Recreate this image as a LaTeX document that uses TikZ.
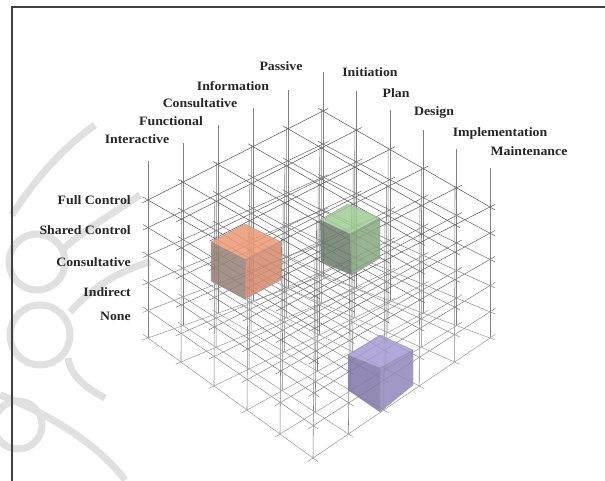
\documentclass[tikz,border=0pt]{standalone}
\usepackage{fontspec}
\setmainfont{Liberation Serif}
\newfontfamily\lblfont[FakeStretch=1.08]{Liberation Serif}
% trilinear interpolation of the lattice (i: left-down, j: right-down, k: down), in pixels
\newcommand\Lx[3]{((1-(#3)/5)*((1-(#1)/5)*(1-(#2)/5)*323+(#1)/5*(1-(#2)/5)*148+(1-(#1)/5)*(#2)/5*490+(#1)/5*(#2)/5*315)+(#3)/5*((1-(#1)/5)*(1-(#2)/5)*323+(#1)/5*(1-(#2)/5)*148+(1-(#1)/5)*(#2)/5*490+(#1)/5*(#2)/5*313))}
\newcommand\Ly[3]{((1-(#3)/5)*((1-(#1)/5)*(1-(#2)/5)*111+(#1)/5*(1-(#2)/5)*200+(1-(#1)/5)*(#2)/5*207+(#1)/5*(#2)/5*296)+(#3)/5*((1-(#1)/5)*(1-(#2)/5)*276+(#1)/5*(1-(#2)/5)*338+(1-(#1)/5)*(#2)/5*338+(#1)/5*(#2)/5*458))}
\tikzset{
  gridline/.style={draw=black!50, line width=0.55pt},
  wmark/.style={draw=black!12, line width=7pt},
  lbl/.style={font=\lblfont\bfseries\fontsize{12.8}{14}\selectfont, text=black!85, inner sep=0pt},
  lblr/.style={lbl, anchor=east},
  cubeface/.style={fill opacity=0.85, draw=black!40, line width=0.3pt}
}
\begin{document}
\begin{tikzpicture}[x=1pt,y=-1pt]
\useasboundingbox (0,0) rectangle (605,480);
\fill[white] (0,0) rectangle (605,480);
% watermark
\draw[wmark] (95,125) .. controls (60,150) and (35,180) .. (12,215);
\draw[wmark] (37,262) circle (28);
\draw[wmark] (40,335) circle (30);
\draw[wmark] (140,195) .. controls (110,215) and (85,230) .. (64,248);
\draw[wmark] (150,262) .. controls (115,272) and (90,290) .. (70,312);
\draw[wmark] (105,398) .. controls (80,385) and (70,372) .. (68,358);
\draw[wmark] (0,395) .. controls (40,410) and (95,440) .. (125,480);
\draw[wmark] (18,425) circle (24);
% frame
\draw[black!75, line width=1.3pt] (606,7) -- (12,7) -- (12,481);
% verticals
\foreach \i in {0,...,5}{\foreach \j in {0,...,5}{
  \draw[gridline] ({\Lx{\i}{\j}{0}},{\Ly{\i}{\j}{0}-39}) -- ({\Lx{\i}{\j}{5}},{\Ly{\i}{\j}{5}});
}}
% lines along i
\foreach \j in {0,...,5}{\foreach \k in {0,...,5}{
  \pgfmathtruncatemacro\shade{62-5*\k}
  \draw[gridline, draw=black!\shade] ({\Lx{-0.15}{\j}{\k}},{\Ly{-0.15}{\j}{\k}}) -- ({\Lx{5.15}{\j}{\k}},{\Ly{5.15}{\j}{\k}});
}}
% lines along j
\foreach \i in {0,...,5}{\foreach \k in {0,...,5}{
  \pgfmathtruncatemacro\shade{62-5*\k}
  \draw[gridline, draw=black!\shade] ({\Lx{\i}{-0.15}{\k}},{\Ly{\i}{-0.15}{\k}}) -- ({\Lx{\i}{5.15}{\k}},{\Ly{\i}{5.15}{\k}});
}}
% orange cube
\filldraw[cubeface, fill={rgb,255:red,236;green,152;blue,115}] (245,224) -- (281,242) -- (246,260) -- (211,242) -- cycle;
\filldraw[cubeface, fill={rgb,255:red,150;green,128;blue,118}] (211,242) -- (246,260) -- (245,299) -- (211,281) -- cycle;
\filldraw[cubeface, fill={rgb,255:red,214;green,136;blue,108}] (246,260) -- (281,242) -- (281,280) -- (245,299) -- cycle;
% green cube
\filldraw[cubeface, fill={rgb,255:red,160;green,205;blue,150}] (348,204) -- (380,218) -- (350,234) -- (320,220) -- cycle;
\filldraw[cubeface, fill={rgb,255:red,108;green,124;blue,108}] (320,220) -- (350,234) -- (352,275) -- (321,262) -- cycle;
\filldraw[cubeface, fill={rgb,255:red,135;green,168;blue,128}] (350,234) -- (380,218) -- (380,258) -- (352,275) -- cycle;
% purple cube
\filldraw[cubeface, fill={rgb,255:red,165;green,155;blue,212}] (380,335) -- (413,350) -- (380,368) -- (348,355) -- cycle;
\filldraw[cubeface, fill={rgb,255:red,128;green,118;blue,168}] (348,355) -- (380,368) -- (380,412) -- (348,390) -- cycle;
\filldraw[cubeface, fill={rgb,255:red,145;green,135;blue,188}] (380,368) -- (413,350) -- (413,385) -- (380,412) -- cycle;
% labels, left-back axis
\node[lbl] (passive) at (281,66) {Passive};
\node[lbl] (information) at (233,86) {Information};
\node[lbl] (consult1) at (200,103) {Consultative};
\node[lbl] (functional) at (171,121) {Functional};
\node[lbl] (interactive) at (137,139) {Interactive};
% labels, right-back axis
\node[lbl] (initiation) at (370,72) {Initiation};
\node[lbl] (plan) at (396,93) {Plan};
\node[lbl] (design) at (434,112) {Design};
\node[lbl] (implementation) at (500,133) {Implementation};
\node[lbl] (maintenance) at (529,151) {Maintenance};
% labels, vertical axis
\node[lblr] (full) at (131,200) {Full Control};
\node[lblr] (shared) at (131,230) {Shared Control};
\node[lblr] (consult2) at (131,262) {Consultative};
\node[lblr] (indirect) at (131,292) {Indirect};
\node[lblr] (none) at (131,316) {None};
\end{tikzpicture}
\end{document}
